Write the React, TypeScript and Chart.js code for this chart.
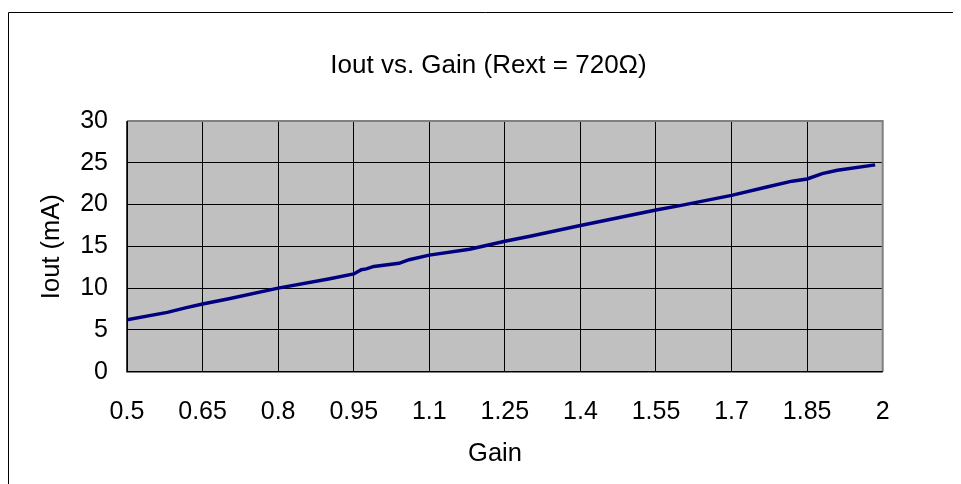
import React, { useEffect, useRef } from "react";
import { Chart, registerables } from "chart.js";

Chart.register(...registerables);

const gain = [0.5, 0.58, 0.62, 0.65, 0.7, 0.8, 0.9, 0.95, 0.965, 0.975, 0.99, 1.04, 1.06, 1.1, 1.18, 1.25, 1.3, 1.4, 1.55, 1.6, 1.7, 1.77, 1.82, 1.85, 1.88, 1.91, 1.985];
const iout = [6.2, 7.1, 7.7, 8.1, 8.7, 10.0, 11.1, 11.7, 12.2, 12.3, 12.6, 12.97, 13.4, 13.95, 14.65, 15.6, 16.2, 17.5, 19.35, 19.9, 21.1, 22.1, 22.8, 23.06, 23.7, 24.1, 24.75];

const xTickValues = [0.5, 0.65, 0.8, 0.95, 1.1, 1.25, 1.4, 1.55, 1.7, 1.85, 2];
const xTickLabels = ["0.5", "0.65", "0.8", "0.95", "1.1", "1.25", "1.4", "1.55", "1.7", "1.85", "2"];
const yTickValues = [0, 5, 10, 15, 20, 25, 30];
const yTickLabels = ["0", "5", "10", "15", "20", "25", "30"];

const chartTitle = "Iout vs. Gain (Rext = 720Ω)";
const xTitle = "Gain";
const yTitle = "Iout (mA)";

const FONT = "'Liberation Sans', Arial, sans-serif";
const W = 953;
const H = 476;

const decorPlugin = {
  id: "decor",
  beforeDraw(chart: any) {
    const { ctx, chartArea } = chart;
    ctx.save();
    ctx.fillStyle = "#ffffff";
    ctx.fillRect(0, 0, chart.width, chart.height);
    ctx.strokeStyle = "#000000";
    ctx.lineWidth = 1;
    ctx.beginPath();
    ctx.moveTo(0.5, chart.height + 5);
    ctx.lineTo(0.5, 4.5);
    ctx.lineTo(chart.width + 5, 4.5);
    ctx.stroke();
    ctx.fillStyle = "#c0c0c0";
    ctx.fillRect(chartArea.left, chartArea.top, chartArea.right - chartArea.left, chartArea.bottom - chartArea.top);
    ctx.restore();
  },
  afterDraw(chart: any) {
    const { ctx, chartArea } = chart;
    const { left, right, top, bottom } = chartArea;
    ctx.save();
    ctx.strokeStyle = "#808080";
    ctx.lineWidth = 2;
    ctx.beginPath();
    ctx.moveTo(left, top);
    ctx.lineTo(right, top);
    ctx.lineTo(right, bottom);
    ctx.stroke();
    ctx.strokeStyle = "#000000";
    ctx.lineWidth = 1.5;
    ctx.beginPath();
    ctx.moveTo(left, top);
    ctx.lineTo(left, bottom);
    ctx.lineTo(right, bottom);
    ctx.stroke();

    ctx.fillStyle = "#000000";
    ctx.font = `26px ${FONT}`;
    ctx.textBaseline = "alphabetic";
    ctx.textAlign = "center";
    ctx.fillText(chartTitle, 480.5, 65.3);
    ctx.font = `25.5px ${FONT}`;
    ctx.fillText(xTitle, 487, 453);
    ctx.translate(51, 238.7);
    ctx.rotate(-Math.PI / 2);
    ctx.fillText(yTitle, 0, 0);
    ctx.restore();
  },
};

export default function App() {
  const ref = useRef<HTMLCanvasElement | null>(null);
  useEffect(() => {
    if (!ref.current) return;
    const chart = new Chart(ref.current, {
      type: "scatter",
      data: {
        datasets: [
          {
            data: gain.map((g, i) => ({ x: g, y: iout[i] })),
            showLine: true,
            borderColor: "#000080",
            backgroundColor: "#000080",
            borderWidth: 3.5,
            pointRadius: 0,
            tension: 0,
          },
        ],
      },
      options: {
        responsive: false,
        animation: false,
        layout: { padding: { top: 113, right: 78.3, left: 0, bottom: 0 } },
        plugins: { legend: { display: false }, title: { display: false }, tooltip: { enabled: false } },
        scales: {
          x: {
            type: "linear",
            min: 0.5,
            max: 2,
            afterBuildTicks(scale: any) {
              scale.ticks = xTickValues.map((v) => ({ value: v }));
            },
            afterFit(scale: any) {
              scale.height = H - 363.7;
            },
            ticks: {
              color: "#000000",
              font: { family: FONT, size: 25 },
              padding: 25,
              maxRotation: 0,
              autoSkip: false,
              callback: (v: any) => {
                const i = xTickValues.findIndex((t) => Math.abs(t - Number(v)) < 1e-9);
                return i >= 0 ? xTickLabels[i] : "";
              },
            },
            grid: { color: "#000000", lineWidth: 1, drawTicks: false },
            border: { display: true, color: "#000000", width: 1 },
          },
          y: {
            type: "linear",
            min: 0,
            max: 30,
            afterBuildTicks(scale: any) {
              scale.ticks = yTickValues.map((v) => ({ value: v }));
            },
            afterFit(scale: any) {
              scale.width = 119;
            },
            ticks: {
              color: "#000000",
              font: { family: FONT, size: 25 },
              padding: 19,
              autoSkip: false,
              callback: (v: any) => {
                const i = yTickValues.indexOf(Number(v));
                return i >= 0 ? yTickLabels[i] : "";
              },
            },
            grid: { color: "#000000", lineWidth: 1, drawTicks: false },
            border: { display: true, color: "#000000", width: 1 },
          },
        },
      },
      plugins: [decorPlugin],
    });
    return () => chart.destroy();
  }, []);
  return (
    <div style={{ width: W, height: H }}>
      <canvas ref={ref} width={W} height={H} style={{ display: "block", width: W, height: H }} />
    </div>
  );
}
